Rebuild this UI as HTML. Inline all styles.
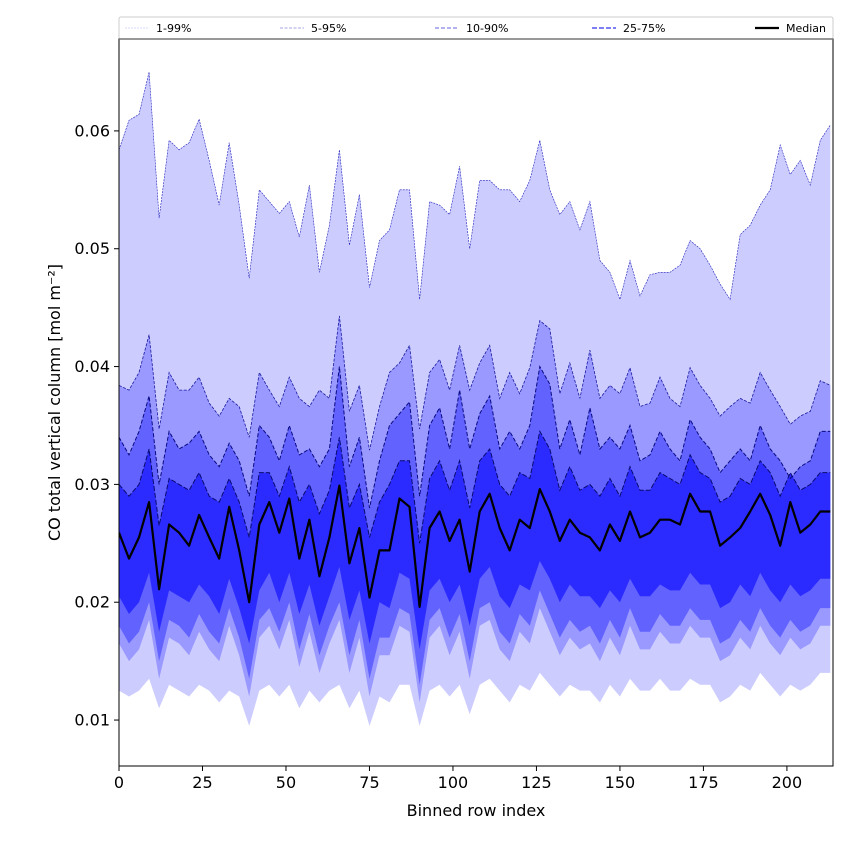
<!DOCTYPE html>
<html><head><meta charset="utf-8">
<style>
body{margin:0;background:#fff;font-family:"Liberation Sans","DejaVu Sans",sans-serif;}
svg text{font-family:"DejaVu Sans","Liberation Sans",sans-serif;}
</style></head>
<body>
<svg id="chart" width="850" height="850" viewBox="0 0 850 850" xmlns="http://www.w3.org/2000/svg">
<rect width="850" height="850" fill="#fff"/>
<g id="plot"></g>
<g id="axes"></g>
<g id="legend"></g>
</svg>
<script>
const p99=[0.0584,0.0609,0.0614,0.0650,0.0526,0.0592,0.0584,0.0590,0.0610,0.0575,0.0537,0.0590,0.0537,0.0475,0.0550,0.0540,0.0530,0.0540,0.0510,0.0554,0.0480,0.0520,0.0584,0.0503,0.0546,0.0467,0.0507,0.0516,0.0550,0.0550,0.0457,0.0540,0.0537,0.0529,0.0570,0.0500,
0.0558,0.0558,0.0550,0.0550,0.0540,0.0558,0.0592,0.0550,0.0529,0.0540,0.0516,0.0540,0.0490,0.0480,0.0457,0.0490,0.0460,0.0478,0.0480,0.0480,0.0486,0.0507,0.0500,0.0486,0.0470,0.0457,0.0512,0.0520,0.0537,0.0550,0.0588,0.0563,0.0575,0.0554,0.0592,0.0605];
const p95=[0.0384,0.0380,0.0395,0.0427,0.0347,0.0395,0.0380,0.0380,0.0391,0.0369,0.0358,0.0373,0.0366,0.0340,0.0395,0.0380,0.0366,0.0391,0.0373,0.0366,0.0380,0.0373,0.0443,0.0362,0.0384,0.0329,0.0366,0.0395,0.0403,0.0418,0.0347,0.0395,0.0406,0.0380,0.0418,0.0380,
0.0403,0.0418,0.0373,0.0395,0.0377,0.0399,0.0439,0.0432,0.0377,0.0403,0.0373,0.0414,0.0373,0.0384,0.0377,0.0399,0.0366,0.0369,0.0391,0.0373,0.0366,0.0399,0.0384,0.0373,0.0358,0.0366,0.0373,0.0369,0.0395,0.0380,0.0366,0.0351,0.0358,0.0362,0.0388,0.0384];
const p90=[0.0340,0.0325,0.0345,0.0375,0.0300,0.0345,0.0330,0.0335,0.0345,0.0325,0.0315,0.0335,0.0320,0.0290,0.0350,0.0340,0.0320,0.0350,0.0325,0.0330,0.0315,0.0330,0.0400,0.0315,0.0340,0.0280,0.0320,0.0350,0.0360,0.0370,0.0290,0.0350,0.0365,0.0330,0.0380,0.0330,
0.0360,0.0375,0.0330,0.0345,0.0330,0.0350,0.0400,0.0385,0.0330,0.0355,0.0325,0.0365,0.0330,0.0340,0.0330,0.0350,0.0320,0.0325,0.0345,0.0330,0.0320,0.0355,0.0340,0.0330,0.0310,0.0320,0.0330,0.0320,0.0350,0.0330,0.0320,0.0305,0.0315,0.0320,0.0345,0.0345];
const p75=[0.0300,0.0290,0.0300,0.0330,0.0265,0.0305,0.0300,0.0295,0.0310,0.0290,0.0285,0.0305,0.0285,0.0255,0.0310,0.0310,0.0290,0.0315,0.0285,0.0300,0.0275,0.0295,0.0340,0.0280,0.0300,0.0255,0.0285,0.0300,0.0320,0.0320,0.0250,0.0305,0.0320,0.0295,0.0320,0.0280,
0.0320,0.0330,0.0300,0.0290,0.0310,0.0305,0.0345,0.0330,0.0295,0.0315,0.0295,0.0300,0.0290,0.0305,0.0290,0.0315,0.0295,0.0295,0.0310,0.0305,0.0300,0.0325,0.0310,0.0305,0.0285,0.0290,0.0305,0.0300,0.0320,0.0310,0.0290,0.0310,0.0295,0.0300,0.0310,0.0310];
const p50=[0.0259,0.0237,0.0255,0.0285,0.0211,0.0266,0.0259,0.0248,0.0274,0.0255,0.0237,0.0281,0.0244,0.0200,0.0266,0.0285,0.0259,0.0288,0.0237,0.0270,0.0222,0.0255,0.0299,0.0233,0.0263,0.0204,0.0244,0.0244,0.0288,0.0281,0.0196,0.0263,0.0277,0.0252,0.0270,0.0226,
0.0277,0.0292,0.0263,0.0244,0.0270,0.0263,0.0296,0.0277,0.0252,0.0270,0.0259,0.0255,0.0244,0.0266,0.0252,0.0277,0.0255,0.0259,0.0270,0.0270,0.0266,0.0292,0.0277,0.0277,0.0248,0.0255,0.0263,0.0277,0.0292,0.0274,0.0248,0.0285,0.0259,0.0266,0.0277,0.0277];
const p25=[0.0205,0.0190,0.0200,0.0225,0.0175,0.0210,0.0205,0.0200,0.0215,0.0205,0.0190,0.0220,0.0195,0.0165,0.0210,0.0225,0.0200,0.0225,0.0190,0.0215,0.0180,0.0205,0.0230,0.0185,0.0210,0.0165,0.0200,0.0195,0.0225,0.0220,0.0160,0.0210,0.0220,0.0200,0.0215,0.0180,
0.0220,0.0230,0.0205,0.0195,0.0215,0.0210,0.0235,0.0220,0.0200,0.0215,0.0205,0.0205,0.0195,0.0210,0.0200,0.0220,0.0205,0.0205,0.0215,0.0210,0.0210,0.0225,0.0215,0.0215,0.0195,0.0200,0.0215,0.0205,0.0225,0.0210,0.0200,0.0215,0.0205,0.0210,0.0220,0.0220];
const p10=[0.0180,0.0165,0.0175,0.0200,0.0150,0.0185,0.0180,0.0170,0.0190,0.0175,0.0165,0.0195,0.0170,0.0135,0.0185,0.0195,0.0175,0.0200,0.0160,0.0190,0.0155,0.0180,0.0200,0.0155,0.0185,0.0135,0.0170,0.0170,0.0195,0.0190,0.0130,0.0185,0.0195,0.0170,0.0190,0.0150,
0.0195,0.0200,0.0175,0.0165,0.0190,0.0180,0.0210,0.0190,0.0170,0.0185,0.0175,0.0180,0.0165,0.0185,0.0170,0.0195,0.0175,0.0175,0.0190,0.0180,0.0180,0.0195,0.0185,0.0185,0.0165,0.0170,0.0185,0.0175,0.0195,0.0180,0.0170,0.0185,0.0175,0.0180,0.0195,0.0195];
const p5=[0.0165,0.0150,0.0160,0.0185,0.0135,0.0170,0.0165,0.0155,0.0175,0.0160,0.0150,0.0180,0.0155,0.0120,0.0170,0.0180,0.0160,0.0185,0.0145,0.0175,0.0140,0.0165,0.0185,0.0140,0.0170,0.0120,0.0155,0.0155,0.0180,0.0175,0.0115,0.0170,0.0180,0.0155,0.0175,0.0135,
0.0180,0.0185,0.0160,0.0150,0.0175,0.0165,0.0195,0.0175,0.0155,0.0170,0.0160,0.0165,0.0150,0.0170,0.0155,0.0180,0.0160,0.0160,0.0175,0.0165,0.0165,0.0180,0.0170,0.0170,0.0150,0.0155,0.0170,0.0160,0.0180,0.0165,0.0155,0.0170,0.0160,0.0165,0.0180,0.0180];
const p1=[0.0125,0.0120,0.0125,0.0135,0.0110,0.0130,0.0125,0.0120,0.0130,0.0125,0.0115,0.0125,0.0120,0.0095,0.0125,0.0130,0.0120,0.0130,0.0110,0.0125,0.0115,0.0125,0.0130,0.0110,0.0125,0.0095,0.0120,0.0115,0.0130,0.0130,0.0095,0.0125,0.0130,0.0120,0.0130,0.0105,
0.0130,0.0135,0.0125,0.0115,0.0130,0.0125,0.0140,0.0130,0.0120,0.0130,0.0125,0.0125,0.0115,0.0130,0.0120,0.0135,0.0125,0.0125,0.0135,0.0125,0.0125,0.0135,0.0130,0.0130,0.0115,0.0120,0.0130,0.0125,0.0140,0.0130,0.0120,0.0130,0.0125,0.0130,0.0140,0.0140];
const xStep=3;
const xTicks=[0,25,50,75,100,125,150,175,200];
const yTicks=[0.01,0.02,0.03,0.04,0.05,0.06];
const yTickLabels=["0.01","0.02","0.03","0.04","0.05","0.06"];
const legendLabels=["1-99%","5-95%","10-90%","25-75%","Median"];

const NS="http://www.w3.org/2000/svg";
const L=119,R=833,T=39,B=766;
const X0=0,X1=213.8,Y0=0.00610,Y1=0.0678;
function sx(v){return L+(v-X0)/(X1-X0)*(R-L);}
function sy(v){return B-(v-Y0)/(Y1-Y0)*(B-T);}
function mk(tag,attrs,parent){const e=document.createElementNS(NS,tag);for(const k in attrs)e.setAttribute(k,attrs[k]);parent.appendChild(e);return e;}
const plot=document.getElementById('plot'),axes=document.getElementById('axes'),leg=document.getElementById('legend');
const n=Math.min(p99.length,p95.length,p90.length,p75.length,p50.length,p25.length,p10.length,p5.length,p1.length);
const xs=[];for(let i=0;i<n;i++)xs.push(i*xStep);
function linePts(a){let s='';for(let i=0;i<n;i++)s+=(i?'L':'M')+sx(xs[i]).toFixed(1)+','+sy(a[i]).toFixed(1);return s;}
function bandPath(hi,lo){let s=linePts(hi);for(let i=n-1;i>=0;i--)s+='L'+sx(xs[i]).toFixed(1)+','+sy(lo[i]).toFixed(1);return s+'Z';}
const cp=mk('clipPath',{id:'clip'},plot);mk('rect',{x:L,y:T,width:R-L,height:B-T},cp);
const g=mk('g',{'clip-path':'url(#clip)'},plot);
const bands=[[p99,p1,'#ccccff','band-1-99'],[p95,p5,'#9999ff','band-5-95'],[p90,p10,'#6262ff','band-10-90'],[p75,p25,'#2b2bff','band-25-75']];
bands.forEach(b=>{
  const e=mk('path',{d:bandPath(b[0],b[1]),fill:b[2],stroke:'none'},g);
  
  
});
const lines=[[p99,'#2222bb',0.6,'2,1','line-p99'],[p95,'#1a1aa0',0.8,'3,1.5','line-p95'],[p90,'#0a0a80',1,'4,2','line-p90'],[p75,'#0a0a70',1,'5,2','line-p75']];
lines.forEach(l=>{
  const e=mk('path',{d:linePts(l[0]),fill:'none',stroke:l[1],'stroke-width':l[2],'stroke-dasharray':l[3]},g);
  
  
});
const med=mk('path',{d:linePts(p50),fill:'none',stroke:'#000','stroke-width':2.2,'stroke-linejoin':'round'},g);


// axes frame
const fr=mk('rect',{x:L,y:T,width:R-L,height:B-T,fill:'none',stroke:'#000','stroke-width':1},axes);


xTicks.forEach(t=>{
  const x=sx(t);
  mk('line',{x1:x,y1:B,x2:x,y2:B+5,stroke:'#000'},axes);
  const tx=mk('text',{x:x,y:B+22,'text-anchor':'middle','font-size':16,fill:'#000'},axes);tx.textContent=t;
  
  
});
yTicks.forEach((t,i)=>{
  const y=sy(t);
  mk('line',{x1:L-5,y1:y,x2:L,y2:y,stroke:'#000'},axes);
  const tx=mk('text',{x:L-9,y:y+5.5,'text-anchor':'end','font-size':16,fill:'#000'},axes);tx.textContent=yTickLabels[i];
  
  
});
const xt=mk('text',{x:(L+R)/2,y:816,'text-anchor':'middle','font-size':16,fill:'#000'},axes);xt.textContent='Binned row index';


const yt=mk('text',{x:0,y:0,'text-anchor':'middle','font-size':16,fill:'#000',transform:'translate(60,'+((T+B)/2)+') rotate(-90)'},axes);yt.textContent='CO total vertical column [mol m⁻²]';


// legend
const lb=mk('rect',{x:119,y:17,width:714,height:22,fill:'#fff',stroke:'#ccc','stroke-width':1,rx:2},leg);


mk('line',{x1:119,y1:39,x2:833,y2:39,stroke:'#777','stroke-width':1.5},leg);
const lx=[125,280,435,592,755];
const lstyle=[['#ccccff',0.8,'2,1'],['#8888dd',0.8,'3,1.5'],['#6666dd',1,'4,2'],['#3333ee',1.2,'5,2'],['#000',2.2,'']];
legendLabels.forEach((s,i)=>{
  const ge=mk('g',{},leg);
  
  
  const a={x1:lx[i],y1:28,x2:lx[i]+24,y2:28,stroke:lstyle[i][0],'stroke-width':lstyle[i][1]};
  if(lstyle[i][2])a['stroke-dasharray']=lstyle[i][2];
  mk('line',a,ge);
  const t=mk('text',{x:lx[i]+31,y:32,'font-size':11,fill:'#000'},ge);t.textContent=s;
});
</script>
</body></html>
